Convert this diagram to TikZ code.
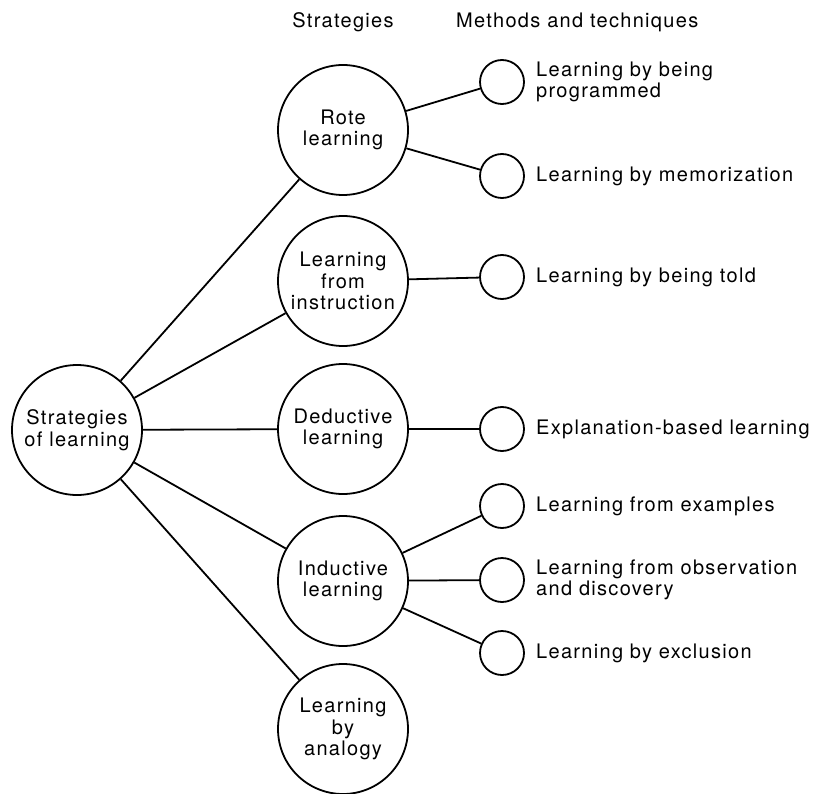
\documentclass[tikz,border=0pt]{standalone}
\usepackage{fontspec}
\setmainfont{TeX Gyre Heros}[LetterSpace=6.5]
\begin{document}
\begin{tikzpicture}[x=1pt,y=-1pt,
  every node/.style={font=\fontsize{20}{21.5}\selectfont},
  bigc/.style={circle, draw, line width=1.8pt, minimum size=130pt, inner sep=0pt, align=center},
  smallc/.style={circle, draw, line width=1.8pt, minimum size=44pt, inner sep=0pt},
  txt/.style={anchor=west, align=left, inner sep=0pt},
  link/.style={line width=1.8pt}]
\useasboundingbox (0,0) rectangle (816,794);

% column headings
\node (hstrat) at (343,22) {Strategies};
\node[anchor=west, inner sep=0pt] (hmeth) at (456,22) {Methods and techniques};

% root
\node[bigc] (root) at (77,430) {Strategies\\of learning};

% strategies
\node[bigc] (rote)  at (343,130) {Rote\\learning};
\node[bigc] (instr) at (343,281) {Learning\\from\\instruction};
\node[bigc] (deduc) at (343,429) {Deductive\\learning};
\node[bigc] (induc) at (343,581) {Inductive\\learning};
\node[bigc] (analo) at (343,729) {Learning\\by\\analogy};

% methods and techniques
\node[smallc] (m1) at (502,82)  {};
\node[smallc] (m2) at (502,176) {};
\node[smallc] (m3) at (502,277) {};
\node[smallc] (m4) at (502,429) {};
\node[smallc] (m5) at (502,506) {};
\node[smallc] (m6) at (502,580) {};
\node[smallc] (m7) at (502,653) {};

\node[txt] (t1) at (536,82)  {Learning by being\\programmed};
\node[txt] (t2) at (536,176) {Learning by memorization};
\node[txt] (t3) at (536,277) {Learning by being told};
\node[txt] (t4) at (536,429) {Explanation-based learning};
\node[txt] (t5) at (536,506) {Learning from examples};
\node[txt] (t6) at (536,580) {Learning from observation\\and discovery};
\node[txt] (t7) at (536,653) {Learning by exclusion};

% connectors
\foreach \s in {rote,instr,deduc,induc,analo}
  \draw[link] (root) -- (\s);
\draw[link] (rote) -- (m1);
\draw[link] (rote) -- (m2);
\draw[link] (instr) -- (m3);
\draw[link] (deduc) -- (m4);
\draw[link] (induc) -- (m5);
\draw[link] (induc) -- (m6);
\draw[link] (induc) -- (m7);
\end{tikzpicture}
\end{document}
